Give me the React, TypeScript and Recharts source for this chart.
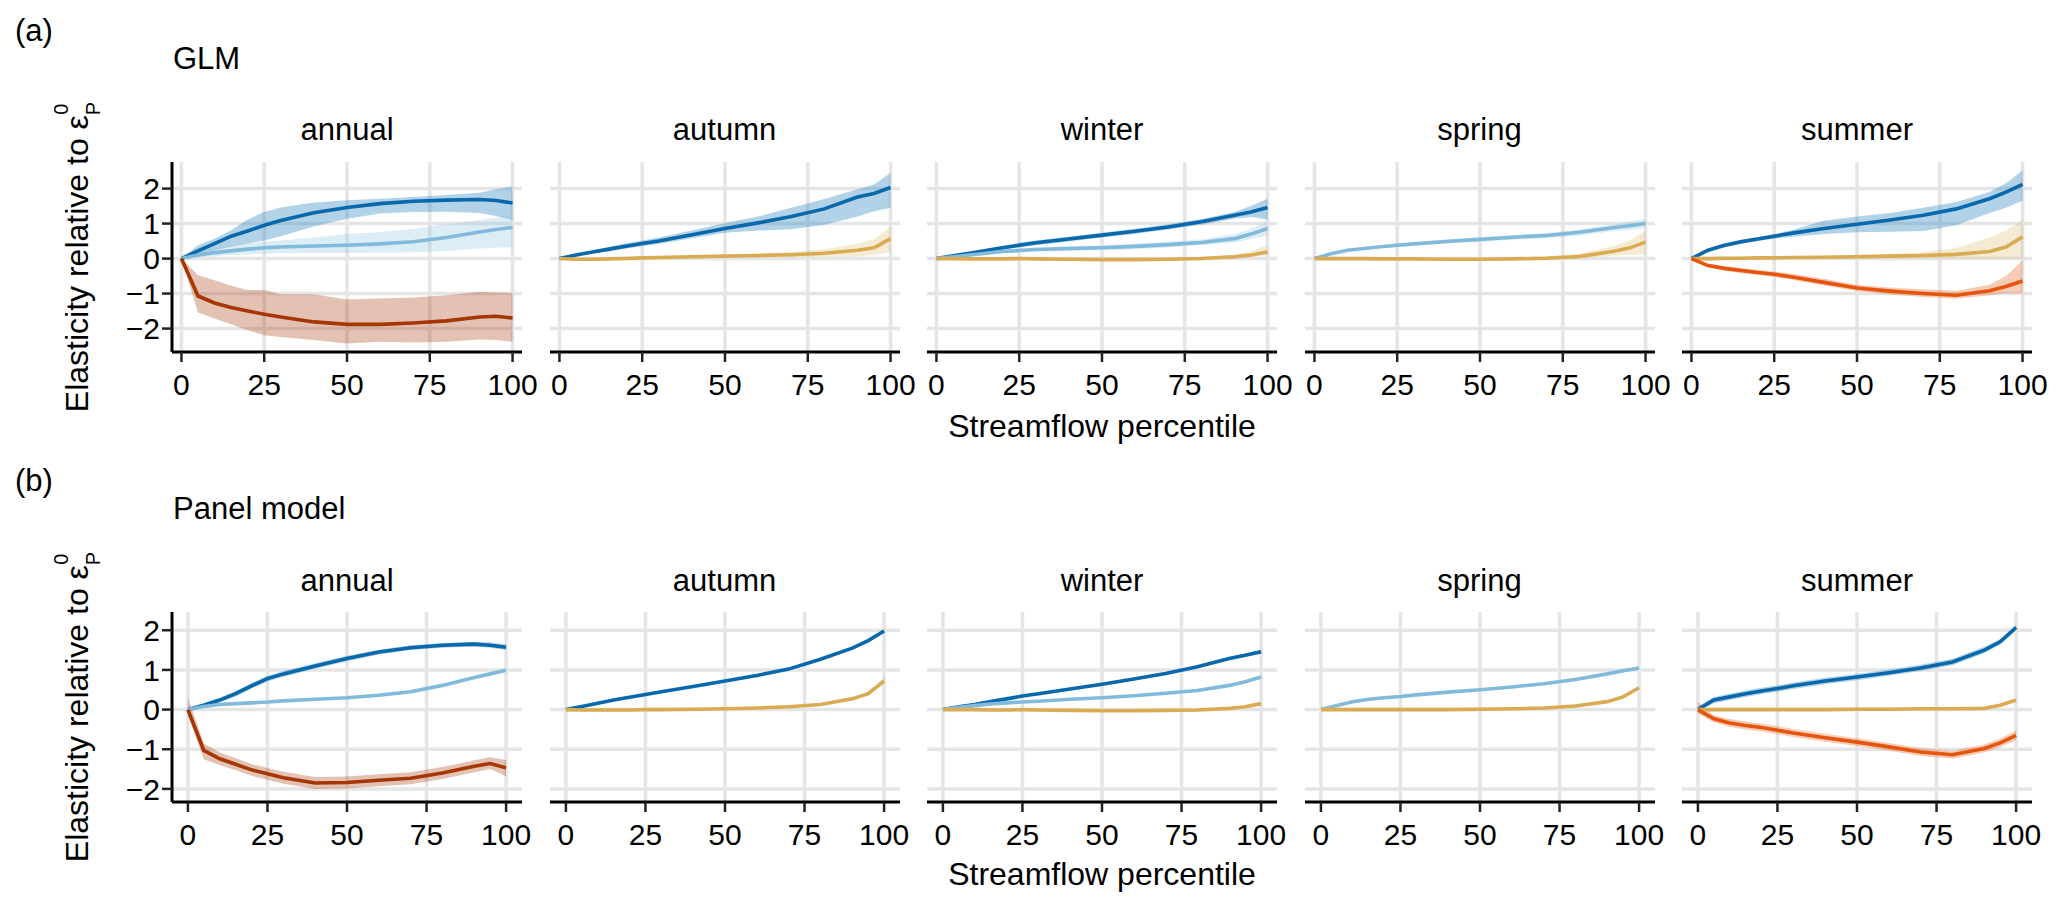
import React from 'react';
import {
  ComposedChart,
  Area,
  Line,
  XAxis,
  YAxis,
  CartesianGrid,
} from 'recharts';

// streamflow percentiles where the curves were read
const pct = [0, 5, 10, 15, 20, 25, 30, 40, 50, 60, 70, 80, 90, 95, 100];
const xTicks = [0, 25, 50, 75, 100];
const yTicks = [-2, -1, 0, 1, 2];
const seasons = ['annual', 'autumn', 'winter', 'spring', 'summer'];

// ---- GLM ----
const glmAnnualDk = [0, 0.22, 0.43, 0.64, 0.79, 0.95, 1.09, 1.31, 1.46, 1.57, 1.64, 1.67, 1.69, 1.66, 1.59];
const glmAnnualDkLo = [0, 0.1, 0.24, 0.34, 0.43, 0.52, 0.64, 0.92, 1.14, 1.29, 1.33, 1.34, 1.3, 1.22, 1.1];
const glmAnnualDkHi = [0, 0.38, 0.57, 0.81, 1.12, 1.33, 1.46, 1.6, 1.67, 1.71, 1.76, 1.82, 1.88, 1.98, 2.07];
const glmAnnualLt = [0, 0.1, 0.17, 0.22, 0.27, 0.31, 0.33, 0.36, 0.38, 0.42, 0.48, 0.6, 0.76, 0.83, 0.89];
const glmAnnualLtLo = [0, 0.03, 0.07, 0.1, 0.12, 0.14, 0.15, 0.16, 0.16, 0.17, 0.18, 0.22, 0.29, 0.31, 0.33];
const glmAnnualLtHi = [0, 0.2, 0.32, 0.38, 0.44, 0.48, 0.52, 0.6, 0.7, 0.76, 0.85, 0.98, 1.1, 1.17, 1.24];
const glmAnnualBr = [0, -1.07, -1.27, -1.4, -1.5, -1.59, -1.67, -1.81, -1.88, -1.88, -1.84, -1.78, -1.67, -1.65, -1.7];
const glmAnnualBrLo = [0, -1.54, -1.71, -1.88, -2.05, -2.19, -2.24, -2.33, -2.43, -2.38, -2.4, -2.38, -2.31, -2.33, -2.38];
const glmAnnualBrHi = [0, -0.48, -0.62, -0.78, -0.9, -0.9, -1.02, -1.02, -1.17, -1.14, -1.11, -1.05, -0.95, -0.97, -0.98];

const glmAutumnDk = [0, 0.1, 0.19, 0.27, 0.35, 0.43, 0.5, 0.68, 0.86, 1.02, 1.2, 1.42, 1.76, 1.86, 2.03];
const glmAutumnDkLo = [0, 0.07, 0.15, 0.21, 0.28, 0.35, 0.42, 0.58, 0.74, 0.8, 0.84, 0.97, 1.2, 1.35, 1.45];
const glmAutumnDkHi = [0, 0.12, 0.23, 0.33, 0.44, 0.52, 0.6, 0.8, 1.02, 1.2, 1.45, 1.7, 1.98, 2.12, 2.45];
const glmAutumnGd = [0, -0.02, -0.02, -0.01, 0, 0.02, 0.03, 0.05, 0.07, 0.09, 0.11, 0.15, 0.24, 0.31, 0.57];
const glmAutumnGdLo = [0, -0.03, -0.03, -0.02, -0.01, 0, 0.01, 0.02, 0.03, 0.04, 0.04, 0.05, 0.06, 0.1, 0.19];
const glmAutumnGdHi = [0, 0, 0, 0.01, 0.02, 0.04, 0.05, 0.08, 0.1, 0.14, 0.19, 0.27, 0.42, 0.55, 0.9];

const glmWinterDk = [0, 0.08, 0.15, 0.23, 0.31, 0.38, 0.45, 0.56, 0.67, 0.78, 0.9, 1.05, 1.24, 1.33, 1.46];
const glmWinterDkLo = [0, 0.06, 0.12, 0.18, 0.25, 0.32, 0.38, 0.49, 0.6, 0.71, 0.83, 0.97, 1.14, 1.19, 1.12];
const glmWinterDkHi = [0, 0.1, 0.19, 0.28, 0.37, 0.45, 0.52, 0.63, 0.74, 0.85, 0.98, 1.13, 1.33, 1.5, 1.71];
const glmWinterLt = [0, 0.05, 0.1, 0.15, 0.2, 0.23, 0.26, 0.29, 0.31, 0.35, 0.4, 0.46, 0.57, 0.7, 0.86];
const glmWinterLtLo = [0, 0.03, 0.07, 0.11, 0.15, 0.18, 0.2, 0.22, 0.24, 0.27, 0.32, 0.38, 0.46, 0.57, 0.67];
const glmWinterLtHi = [0, 0.07, 0.13, 0.19, 0.25, 0.29, 0.32, 0.36, 0.38, 0.43, 0.48, 0.55, 0.7, 0.85, 1.05];
const glmWinterGd = [0, 0, -0.01, -0.01, -0.01, 0, -0.01, -0.02, -0.03, -0.03, -0.02, 0, 0.05, 0.1, 0.19];
const glmWinterGdLo = [0, -0.01, -0.02, -0.02, -0.03, -0.02, -0.03, -0.04, -0.05, -0.05, -0.04, -0.03, 0, 0.04, 0.1];
const glmWinterGdHi = [0, 0.01, 0, 0, 0.01, 0.02, 0.01, 0, -0.01, -0.01, 0.01, 0.04, 0.12, 0.22, 0.38];

const glmSpringLt = [0, 0.14, 0.24, 0.29, 0.34, 0.38, 0.42, 0.49, 0.55, 0.61, 0.66, 0.75, 0.88, 0.94, 1.0];
const glmSpringLtLo = [0, 0.12, 0.21, 0.26, 0.3, 0.33, 0.37, 0.43, 0.48, 0.54, 0.58, 0.65, 0.78, 0.82, 0.86];
const glmSpringLtHi = [0, 0.16, 0.27, 0.33, 0.38, 0.43, 0.47, 0.55, 0.61, 0.67, 0.73, 0.83, 0.97, 1.05, 1.14];
const glmSpringGd = [0, 0, 0, 0, -0.01, -0.01, -0.01, -0.02, -0.02, -0.01, 0.01, 0.06, 0.2, 0.3, 0.47];
const glmSpringGdLo = [0, -0.01, -0.01, -0.02, -0.03, -0.03, -0.03, -0.04, -0.04, -0.04, -0.03, 0, 0.08, 0.1, 0.12];
const glmSpringGdHi = [0, 0.01, 0.01, 0.01, 0.01, 0.01, 0.01, 0.01, 0.01, 0.03, 0.07, 0.14, 0.35, 0.5, 0.8];

const glmSummerDk = [0, 0.24, 0.38, 0.48, 0.56, 0.64, 0.72, 0.86, 0.98, 1.1, 1.24, 1.42, 1.71, 1.9, 2.12];
const glmSummerDkLo = [0, 0.2, 0.32, 0.42, 0.5, 0.57, 0.62, 0.7, 0.75, 0.77, 0.79, 0.95, 1.3, 1.45, 1.65];
const glmSummerDkHi = [0, 0.28, 0.43, 0.54, 0.62, 0.7, 0.8, 1.08, 1.2, 1.3, 1.45, 1.62, 1.9, 2.15, 2.52];
const glmSummerGd = [0, 0, 0.01, 0.01, 0.02, 0.02, 0.03, 0.04, 0.05, 0.07, 0.09, 0.12, 0.2, 0.33, 0.62];
const glmSummerGdLo = [0, -0.01, -0.01, -0.01, -0.01, 0, 0, 0, 0, 0, 0, 0, 0, 0, 0];
const glmSummerGdHi = [0, 0.02, 0.03, 0.04, 0.05, 0.06, 0.07, 0.09, 0.11, 0.14, 0.18, 0.3, 0.6, 0.8, 1.1];
const glmSummerOr = [0, -0.2, -0.28, -0.34, -0.4, -0.45, -0.52, -0.68, -0.84, -0.93, -1.0, -1.05, -0.92, -0.8, -0.64];
const glmSummerOrLo = [0, -0.25, -0.35, -0.42, -0.47, -0.52, -0.6, -0.77, -0.93, -1.03, -1.1, -1.15, -1.05, -1.0, -1.0];
const glmSummerOrHi = [0, -0.15, -0.22, -0.27, -0.32, -0.37, -0.43, -0.58, -0.75, -0.83, -0.88, -0.92, -0.75, -0.5, -0.05];

// ---- Panel model ----
const pmAnnualDk = [0, 0.11, 0.24, 0.4, 0.6, 0.78, 0.9, 1.1, 1.29, 1.45, 1.56, 1.62, 1.65, 1.62, 1.57];
const pmAnnualDkLo = [0, 0.06, 0.18, 0.33, 0.53, 0.71, 0.83, 1.03, 1.22, 1.39, 1.5, 1.56, 1.59, 1.56, 1.5];
const pmAnnualDkHi = [0, 0.16, 0.3, 0.47, 0.67, 0.85, 0.97, 1.17, 1.36, 1.51, 1.62, 1.68, 1.71, 1.69, 1.64];
const pmAnnualLt = [0, 0.08, 0.13, 0.15, 0.17, 0.19, 0.22, 0.26, 0.3, 0.36, 0.45, 0.61, 0.81, 0.9, 0.99];
const pmAnnualLtLo = [0, 0.06, 0.11, 0.13, 0.15, 0.17, 0.2, 0.24, 0.28, 0.34, 0.43, 0.59, 0.79, 0.88, 0.97];
const pmAnnualLtHi = [0, 0.1, 0.15, 0.17, 0.19, 0.21, 0.24, 0.28, 0.32, 0.38, 0.47, 0.63, 0.83, 0.92, 1.01];
const pmAnnualBr = [0, -1.03, -1.24, -1.38, -1.52, -1.62, -1.72, -1.85, -1.84, -1.78, -1.73, -1.6, -1.43, -1.36, -1.47];
const pmAnnualBrLo = [-0.15, -1.25, -1.4, -1.53, -1.67, -1.77, -1.87, -2.0, -1.99, -1.93, -1.88, -1.75, -1.58, -1.5, -1.68];
const pmAnnualBrHi = [0.3, -0.85, -1.08, -1.23, -1.37, -1.47, -1.57, -1.7, -1.69, -1.63, -1.58, -1.45, -1.28, -1.2, -1.27];

const pmAutumnDk = [0, 0.08, 0.16, 0.24, 0.31, 0.38, 0.45, 0.58, 0.72, 0.86, 1.02, 1.27, 1.55, 1.74, 1.98];
const pmAutumnDkLo = [0, 0.06, 0.14, 0.22, 0.29, 0.36, 0.43, 0.56, 0.7, 0.84, 1.0, 1.24, 1.52, 1.7, 1.94];
const pmAutumnDkHi = [0, 0.1, 0.18, 0.26, 0.33, 0.4, 0.47, 0.6, 0.74, 0.88, 1.04, 1.3, 1.58, 1.78, 2.02];
const pmAutumnGd = [0, -0.01, -0.01, -0.01, -0.01, 0, 0, 0.01, 0.02, 0.04, 0.07, 0.13, 0.27, 0.4, 0.72];
const pmAutumnGdLo = [0, -0.02, -0.02, -0.02, -0.02, -0.01, -0.01, 0, 0.01, 0.03, 0.05, 0.1, 0.23, 0.35, 0.65];
const pmAutumnGdHi = [0, 0, 0, 0, 0, 0.01, 0.01, 0.02, 0.04, 0.06, 0.09, 0.16, 0.31, 0.45, 0.8];

const pmWinterDk = [0, 0.07, 0.13, 0.2, 0.27, 0.34, 0.4, 0.52, 0.64, 0.77, 0.91, 1.08, 1.29, 1.37, 1.46];
const pmWinterDkLo = [0, 0.04, 0.1, 0.17, 0.24, 0.31, 0.37, 0.49, 0.61, 0.74, 0.88, 1.05, 1.25, 1.33, 1.41];
const pmWinterDkHi = [0, 0.1, 0.16, 0.23, 0.3, 0.37, 0.43, 0.55, 0.67, 0.8, 0.94, 1.11, 1.33, 1.41, 1.51];
const pmWinterLt = [0, 0.06, 0.1, 0.14, 0.17, 0.19, 0.21, 0.26, 0.3, 0.35, 0.41, 0.48, 0.61, 0.7, 0.82];
const pmWinterLtLo = [0, 0.04, 0.08, 0.12, 0.15, 0.17, 0.19, 0.24, 0.28, 0.33, 0.39, 0.45, 0.58, 0.66, 0.77];
const pmWinterLtHi = [0, 0.08, 0.12, 0.16, 0.19, 0.21, 0.23, 0.28, 0.32, 0.37, 0.43, 0.51, 0.64, 0.74, 0.87];
const pmWinterGd = [0, 0, 0, -0.01, -0.01, 0, -0.01, -0.02, -0.03, -0.03, -0.02, -0.01, 0.03, 0.07, 0.15];
const pmWinterGdLo = [0, -0.01, -0.01, -0.02, -0.02, -0.01, -0.02, -0.03, -0.04, -0.04, -0.03, -0.02, 0.01, 0.05, 0.12];
const pmWinterGdHi = [0, 0.01, 0.01, 0, 0, 0.01, 0, -0.01, -0.02, -0.02, -0.01, 0, 0.05, 0.09, 0.18];

const pmSpringLt = [0, 0.1, 0.2, 0.26, 0.3, 0.33, 0.37, 0.44, 0.5, 0.57, 0.65, 0.76, 0.9, 0.98, 1.05];
const pmSpringLtLo = [0, 0.08, 0.18, 0.24, 0.28, 0.31, 0.35, 0.42, 0.48, 0.55, 0.63, 0.74, 0.87, 0.95, 1.01];
const pmSpringLtHi = [0, 0.12, 0.22, 0.28, 0.32, 0.35, 0.39, 0.46, 0.52, 0.59, 0.67, 0.78, 0.93, 1.01, 1.09];
const pmSpringGd = [0, 0, 0, 0, 0, 0, 0, 0, 0.01, 0.02, 0.04, 0.09, 0.2, 0.32, 0.55];
const pmSpringGdLo = [0, -0.01, -0.01, -0.01, -0.01, -0.01, -0.01, -0.01, 0, 0.01, 0.03, 0.07, 0.17, 0.29, 0.51];
const pmSpringGdHi = [0, 0.01, 0.01, 0.01, 0.01, 0.01, 0.01, 0.01, 0.02, 0.03, 0.05, 0.11, 0.23, 0.35, 0.59];

const pmSummerDk = [0, 0.24, 0.32, 0.4, 0.47, 0.53, 0.6, 0.72, 0.82, 0.93, 1.05, 1.2, 1.5, 1.71, 2.07];
const pmSummerDkLo = [-0.05, 0.16, 0.24, 0.32, 0.39, 0.45, 0.52, 0.64, 0.74, 0.85, 0.97, 1.12, 1.42, 1.64, 2.0];
const pmSummerDkHi = [0.08, 0.32, 0.4, 0.48, 0.55, 0.61, 0.68, 0.8, 0.9, 1.01, 1.13, 1.28, 1.58, 1.78, 2.14];
const pmSummerGd = [0, 0, 0, 0, 0, 0, 0, 0, 0.01, 0.01, 0.02, 0.02, 0.03, 0.11, 0.24];
const pmSummerGdLo = [0, -0.01, -0.01, -0.01, -0.01, -0.01, -0.01, -0.01, 0, 0, 0.01, 0.01, 0.02, 0.09, 0.21];
const pmSummerGdHi = [0, 0.01, 0.01, 0.01, 0.01, 0.01, 0.01, 0.01, 0.02, 0.02, 0.03, 0.03, 0.04, 0.13, 0.27];
const pmSummerOr = [0, -0.23, -0.34, -0.4, -0.45, -0.52, -0.59, -0.71, -0.82, -0.94, -1.07, -1.14, -0.98, -0.84, -0.65];
const pmSummerOrLo = [-0.1, -0.32, -0.44, -0.5, -0.55, -0.62, -0.69, -0.81, -0.92, -1.04, -1.17, -1.24, -1.08, -0.95, -0.77];
const pmSummerOrHi = [0.2, -0.14, -0.24, -0.3, -0.35, -0.42, -0.49, -0.61, -0.72, -0.84, -0.97, -1.04, -0.88, -0.73, -0.53];

const STYLE: Record<string, { line: string; fill: string; op: number }> = {
  dk: { line: '#0868AC', fill: '#3F8FC4', op: 0.4 },
  lt: { line: '#82BADC', fill: '#8EC3E2', op: 0.3 },
  br: { line: '#A63603', fill: '#A63603', op: 0.3 },
  or: { line: '#E6550D', fill: '#E6550D', op: 0.3 },
  gd: { line: '#D9AB52', fill: '#D9AE55', op: 0.25 },
};

interface Series { key: string; mean: number[]; lo: number[]; hi: number[] }

const s = (key: string, mean: number[], lo: number[], hi: number[]): Series => ({ key, mean, lo, hi });

const glmSeries: Series[][] = [
  [s('dk', glmAnnualDk, glmAnnualDkLo, glmAnnualDkHi), s('lt', glmAnnualLt, glmAnnualLtLo, glmAnnualLtHi), s('br', glmAnnualBr, glmAnnualBrLo, glmAnnualBrHi)],
  [s('dk', glmAutumnDk, glmAutumnDkLo, glmAutumnDkHi), s('gd', glmAutumnGd, glmAutumnGdLo, glmAutumnGdHi)],
  [s('dk', glmWinterDk, glmWinterDkLo, glmWinterDkHi), s('lt', glmWinterLt, glmWinterLtLo, glmWinterLtHi), s('gd', glmWinterGd, glmWinterGdLo, glmWinterGdHi)],
  [s('lt', glmSpringLt, glmSpringLtLo, glmSpringLtHi), s('gd', glmSpringGd, glmSpringGdLo, glmSpringGdHi)],
  [s('dk', glmSummerDk, glmSummerDkLo, glmSummerDkHi), s('gd', glmSummerGd, glmSummerGdLo, glmSummerGdHi), s('or', glmSummerOr, glmSummerOrLo, glmSummerOrHi)],
];

const pmSeries: Series[][] = [
  [s('dk', pmAnnualDk, pmAnnualDkLo, pmAnnualDkHi), s('lt', pmAnnualLt, pmAnnualLtLo, pmAnnualLtHi), s('br', pmAnnualBr, pmAnnualBrLo, pmAnnualBrHi)],
  [s('dk', pmAutumnDk, pmAutumnDkLo, pmAutumnDkHi), s('gd', pmAutumnGd, pmAutumnGdLo, pmAutumnGdHi)],
  [s('dk', pmWinterDk, pmWinterDkLo, pmWinterDkHi), s('lt', pmWinterLt, pmWinterLtLo, pmWinterLtHi), s('gd', pmWinterGd, pmWinterGdLo, pmWinterGdHi)],
  [s('lt', pmSpringLt, pmSpringLtLo, pmSpringLtHi), s('gd', pmSpringGd, pmSpringGdLo, pmSpringGdHi)],
  [s('dk', pmSummerDk, pmSummerDkLo, pmSummerDkHi), s('gd', pmSummerGd, pmSummerGdLo, pmSummerGdHi), s('or', pmSummerOr, pmSummerOrLo, pmSummerOrHi)],
];

const PANEL_LEFTS = [172, 549.5, 927, 1304.5, 1682];
const PANEL_W = 350;
const PLOT_H = 190;
const AXIS_H = 50;
const Y_AXIS_W = 60;
const RIGHT_PAD = 30; // room for the "100" label past the plot edge
const FONT = '"Liberation Sans", Arial, Helvetica, sans-serif';

const fmtY = (v: number) => (v < 0 ? `\u2212${Math.abs(v)}` : `${v}`);

function buildRows(series: Series[]) {
  return pct.map((x, i) => {
    const row: Record<string, number | number[]> = { x };
    series.forEach((sr) => {
      row[sr.key] = sr.mean[i];
      row[`${sr.key}_r`] = [sr.lo[i], sr.hi[i]];
    });
    return row;
  });
}

function Facet({ left, top, series, xDom, yDom, showY }: {
  left: number; top: number; series: Series[];
  xDom: [number, number]; yDom: [number, number]; showY: boolean;
}) {
  const rows = buildRows(series);
  const w = (showY ? PANEL_W + Y_AXIS_W : PANEL_W) + RIGHT_PAD;
  return (
    <div style={{ position: 'absolute', left: showY ? left - Y_AXIS_W : left, top }}>
      <ComposedChart width={w} height={PLOT_H + AXIS_H} data={rows}
        margin={{ top: 0, right: RIGHT_PAD, bottom: 0, left: 0 }}>
        <CartesianGrid stroke="#E5E5E5" strokeWidth={3.5}
          horizontalValues={yTicks} verticalValues={xTicks} />
        <XAxis type="number" dataKey="x" domain={xDom} ticks={xTicks} allowDataOverflow
          interval={0} height={AXIS_H} tickSize={10} tickMargin={12}
          axisLine={{ stroke: '#000', strokeWidth: 3 }}
          tickLine={{ stroke: '#222', strokeWidth: 2.5 }}
          tick={{ fill: '#000', fontSize: 30, fontFamily: FONT }} />
        <YAxis type="number" domain={yDom} ticks={yTicks} allowDataOverflow
          interval={0} hide={!showY} width={Y_AXIS_W} tickSize={10} tickMargin={2}
          tickFormatter={fmtY}
          axisLine={{ stroke: '#000', strokeWidth: 3 }}
          tickLine={{ stroke: '#222', strokeWidth: 2.5 }}
          tick={{ fill: '#000', fontSize: 30, fontFamily: FONT }} />
        {series.map((sr) => (
          <Area key={`${sr.key}_r`} dataKey={`${sr.key}_r`} type="linear"
            stroke="none" fill={STYLE[sr.key].fill} fillOpacity={STYLE[sr.key].op}
            isAnimationActive={false} activeDot={false} />
        ))}
        {series.map((sr) => (
          <Line key={sr.key} dataKey={sr.key} type="linear" stroke={STYLE[sr.key].line}
            strokeWidth={3.6} dot={false} activeDot={false} isAnimationActive={false} />
        ))}
      </ComposedChart>
    </div>
  );
}

function YTitle({ cy }: { cy: number }) {
  return (
    <text transform="rotate(-90)" x={-cy} y={88} textAnchor="middle" fontSize={32}>
      Elasticity relative to ε
      <tspan fontSize={20} dy={12}>P</tspan>
      <tspan fontSize={20} dx={-13} dy={-32}>0</tspan>
    </text>
  );
}

export default function App() {
  const glmTop = 162;
  const pmTop = 612;
  return (
    <div style={{ position: 'absolute', left: 0, top: 0, width: 2067, height: 911, background: '#fff', fontFamily: FONT }}>
      {glmSeries.map((sr, i) => (
        <Facet key={`g${i}`} left={PANEL_LEFTS[i]} top={glmTop} series={sr}
          xDom={[-2.85, 102.85]} yDom={[-2.67, 2.76]} showY={i === 0} />
      ))}
      {pmSeries.map((sr, i) => (
        <Facet key={`p${i}`} left={PANEL_LEFTS[i]} top={pmTop} series={sr}
          xDom={[-5, 105]} yDom={[-2.33, 2.46]} showY={i === 0} />
      ))}
      <svg width={2067} height={911} style={{ position: 'absolute', left: 0, top: 0, pointerEvents: 'none' }}
        fontFamily={FONT} fill="#000">
        <text x={15} y={41} fontSize={31}>(a)</text>
        <text x={173} y={69} fontSize={31}>GLM</text>
        <text x={15} y={491} fontSize={31}>(b)</text>
        <text x={173} y={519} fontSize={31}>Panel model</text>
        {seasons.map((t, i) => (
          <text key={`ta${t}`} x={PANEL_LEFTS[i] + PANEL_W / 2} y={140} fontSize={31} textAnchor="middle">{t}</text>
        ))}
        {seasons.map((t, i) => (
          <text key={`tb${t}`} x={PANEL_LEFTS[i] + PANEL_W / 2} y={591} fontSize={31} textAnchor="middle">{t}</text>
        ))}
        <text x={1102} y={437} fontSize={32} textAnchor="middle">Streamflow percentile</text>
        <text x={1102} y={885} fontSize={32} textAnchor="middle">Streamflow percentile</text>
        <YTitle cy={257} />
        <YTitle cy={707} />
      </svg>
    </div>
  );
}
